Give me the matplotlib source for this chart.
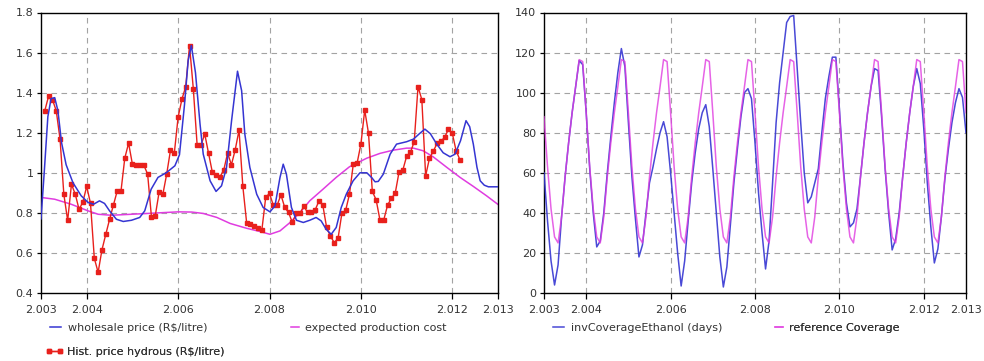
import numpy as np
import matplotlib
matplotlib.use("Agg")
import matplotlib.pyplot as plt
from matplotlib.ticker import FixedLocator, FixedFormatter

# ---------------- left panel: ethanol prices (R$/litre) ----------------
# historical hydrous price, monthly from Feb 2003
hist_price = [
    1.31, 1.383, 1.365, 1.31, 1.168, 0.892, 0.762, 0.943, 0.893, 0.817, 0.855, 0.932,
    0.847, 0.573, 0.503, 0.615, 0.692, 0.767, 0.838, 0.908, 0.908, 1.073, 1.148, 1.043,
    1.038, 1.038, 1.038, 0.993, 0.78, 0.785, 0.902, 0.893, 0.993, 1.113, 1.097, 1.277,
    1.367, 1.43, 1.635, 1.418, 1.138, 1.138, 1.193, 1.097, 1.002, 0.99, 0.98, 1.015,
    1.098, 1.04, 1.115, 1.213, 0.932, 0.75, 0.743, 0.735, 0.722, 0.715, 0.877, 0.897,
    0.838, 0.838, 0.89, 0.827, 0.802, 0.752, 0.797, 0.797, 0.833, 0.802, 0.802, 0.815,
    0.86, 0.838, 0.727, 0.683, 0.652, 0.673, 0.797, 0.813, 0.893, 1.043, 1.048, 1.143,
    1.313, 1.197, 0.907, 0.865, 0.765, 0.765, 0.838, 0.873, 0.897, 1.002, 1.013, 1.082,
    1.102, 1.155, 1.43, 1.365, 0.985, 1.072, 1.107, 1.147, 1.157, 1.177, 1.218, 1.197,
    1.11, 1.065,
]
hist_start = 2003 + 1 / 12

wholesale_t = [
    2003.0, 2003.07, 2003.15, 2003.22, 2003.30, 2003.37, 2003.45, 2003.55, 2003.70, 2003.88,
    2004.03, 2004.15, 2004.28, 2004.39, 2004.50, 2004.65, 2004.80, 2004.98, 2005.16, 2005.27,
    2005.41, 2005.56, 2005.74, 2005.93, 2006.03, 2006.14, 2006.22, 2006.29, 2006.38, 2006.48,
    2006.55, 2006.70, 2006.83, 2006.95, 2007.06, 2007.17, 2007.30, 2007.39, 2007.46, 2007.57,
    2007.72, 2007.86, 2008.01, 2008.12, 2008.23, 2008.30, 2008.37, 2008.48, 2008.59, 2008.74,
    2008.88, 2009.02, 2009.13, 2009.24, 2009.35, 2009.46, 2009.57, 2009.68, 2009.83, 2009.98,
    2010.13, 2010.24, 2010.31, 2010.38, 2010.49, 2010.64, 2010.78, 2011.00, 2011.15, 2011.28,
    2011.40, 2011.52, 2011.66, 2011.80, 2011.95, 2012.06, 2012.18, 2012.30, 2012.38, 2012.46,
    2012.54, 2012.61, 2012.70, 2012.79, 2013.0,
]
wholesale_price = [
    0.77, 1.0, 1.28, 1.37, 1.375, 1.31, 1.15, 1.04, 0.95, 0.885,
    0.852, 0.843, 0.86, 0.847, 0.81, 0.768, 0.757, 0.763, 0.777, 0.81,
    0.918, 0.977, 1.0, 1.035, 1.09, 1.34, 1.56, 1.635, 1.50, 1.243,
    1.093, 0.96, 0.907, 0.935, 1.027, 1.26, 1.507, 1.41, 1.193, 1.027,
    0.893, 0.827, 0.805, 0.835, 0.977, 1.043, 0.993, 0.827, 0.763, 0.752,
    0.763, 0.777, 0.76, 0.718, 0.693, 0.727, 0.827, 0.893, 0.96, 1.0,
    1.0, 0.975, 0.955, 0.957, 0.993, 1.093, 1.143, 1.155, 1.168, 1.195,
    1.218, 1.195, 1.143, 1.10, 1.08, 1.093, 1.16, 1.26, 1.23, 1.143,
    1.027, 0.96, 0.938, 0.93, 0.93,
]

cost_t = [
    2003.0, 2003.3, 2003.66, 2004.03, 2004.25, 2004.54, 2004.98, 2005.41, 2006.0, 2006.3,
    2006.55, 2006.85, 2007.14, 2007.50, 2007.79, 2008.01, 2008.23, 2008.45, 2008.67, 2008.88,
    2009.17, 2009.46, 2009.75, 2010.13, 2010.42, 2010.71, 2011.0, 2011.15, 2011.36, 2011.58,
    2011.88, 2012.17, 2012.46, 2012.75, 2013.0,
]
cost_value = [
    0.877, 0.868, 0.843, 0.81, 0.793, 0.788, 0.793, 0.798, 0.805, 0.804,
    0.797, 0.777, 0.747, 0.723, 0.707, 0.693, 0.71, 0.752, 0.802, 0.86,
    0.918, 0.977, 1.03, 1.073, 1.097, 1.113, 1.123, 1.123, 1.11, 1.08,
    1.027, 0.977, 0.932, 0.885, 0.842,
]

price_yticks = [0.4, 0.6, 0.8, 1.0, 1.2, 1.4, 1.6, 1.8]
price_ylabels = ["0.4", "0.6", "0.8", "1", "1.2", "1.4", "1.6", "1.8"]

# ---------------- right panel: ethanol stock coverage (days), monthly from Jan 2003 ----------------
inv_coverage = [
    60, 36, 16, 4, 14, 38, 58, 75, 90, 103, 116, 114,       # 2003
    90, 62, 40, 23, 26, 40, 60, 78, 95, 110, 122, 113,      # 2004
    85, 58, 37, 18, 24, 40, 55, 63, 72, 80, 85.5, 78,       # 2005
    60, 40, 20, 3.5, 16, 36, 55, 70, 82, 90, 94, 83,        # 2006
    62, 40, 18, 3, 13, 34, 55, 72, 88, 100, 102, 97,        # 2007
    75, 50, 30, 12, 26, 55, 85, 105, 120, 135, 138, 138.5,  # 2008
    112, 85, 60, 45, 48, 55, 62, 80, 97, 108, 117.7, 117.7, # 2009
    92, 65, 45, 33, 35, 42, 58, 75, 90, 103, 112, 111,      # 2010
    88, 62, 40, 21.5, 27, 40, 58, 75, 90, 103, 112, 104.5,  # 2011
    82, 55, 33, 15, 22, 38, 57, 72, 85, 95, 102, 97.6,      # 2012
    80,                                                     # Jan 2013
]
reference_coverage = [
    88, 63, 42, 28, 25, 38, 58, 75, 90, 103, 116.5, 115.5,  # 2003
    90, 63, 42, 28, 25, 38, 58, 75, 90, 103, 116.5, 115.5,  # 2004
    90, 63, 42, 28, 25, 38, 58, 75, 90, 103, 116.5, 115.5,  # 2005
    90, 63, 42, 28, 25, 38, 58, 75, 90, 103, 116.5, 115.5,  # 2006
    90, 63, 42, 28, 25, 38, 58, 75, 90, 103, 116.5, 115.5,  # 2007
    90, 63, 42, 28, 25, 38, 58, 75, 90, 103, 116.5, 115.5,  # 2008
    90, 63, 42, 28, 25, 38, 58, 75, 90, 103, 116.5, 115.5,  # 2009
    90, 63, 42, 28, 25, 38, 58, 75, 90, 103, 116.5, 115.5,  # 2010
    90, 63, 42, 28, 25, 38, 58, 75, 90, 103, 116.5, 115.5,  # 2011
    90, 63, 42, 28, 25, 38, 58, 75, 90, 103, 116.5, 115.5,  # 2012
    90,                                                     # Jan 2013
]
coverage_start = 2003.0
coverage_yticks = [0, 20, 40, 60, 80, 100, 120, 140]

year_ticks = [2003, 2004, 2006, 2008, 2010, 2012, 2013]
year_labels = ["2.003", "2.004", "2.006", "2.008", "2.010", "2.012", "2.013"]
grid_years = [2004, 2006, 2008, 2010, 2012]

# ---------------- styling ----------------
BLUE = "#3535d2"
MAGENTA = "#e03ce0"
RED = "#e8201c"
GRID = "#a3a3a3"
TEXT = "#333333"

plt.rcParams["font.family"] = ["DejaVu Sans"]
plt.rcParams["font.size"] = 8

W, H = 984, 361
fig = plt.figure(figsize=(W / 100, H / 100), dpi=100)


def px_rect(x0, y0, x1, y1):
    return [x0 / W, 1 - y1 / H, (x1 - x0) / W, (y1 - y0) / H]


def style_axes(ax, yticks, ylabels, ylim):
    ax.set_xlim(2003, 2013)
    ax.set_ylim(*ylim)
    ax.xaxis.set_major_locator(FixedLocator(year_ticks))
    ax.xaxis.set_major_formatter(FixedFormatter(year_labels))
    ax.yaxis.set_major_locator(FixedLocator(yticks))
    ax.yaxis.set_major_formatter(FixedFormatter(ylabels))
    ax.tick_params(axis="x", length=4, width=0.9, pad=4.5, colors="black", labelcolor=TEXT)
    ax.tick_params(axis="y", length=3, width=0.9, pad=2.5, colors="black", labelcolor=TEXT)
    for s in ax.spines.values():
        s.set_linewidth(1.0)
        s.set_color("black")
    for g in grid_years:
        ax.axvline(g, color=GRID, lw=0.8, dashes=(5, 4), zorder=0)
    for yv in yticks[1:-1]:
        ax.axhline(yv, color=GRID, lw=0.8, dashes=(5, 4), zorder=0)


def legend_entry(ax, handle, label, x_px, y_px, hlen=1.6):
    leg = ax.legend(
        handles=[handle], labels=[label], loc="center left",
        bbox_to_anchor=(x_px / W, 1 - y_px / H), bbox_transform=fig.transFigure,
        frameon=False, handlelength=hlen, handletextpad=0.25,
        borderpad=0, borderaxespad=0, numpoints=2, fontsize=8,
    )
    for t in leg.get_texts():
        t.set_color(TEXT)
    ax.add_artist(leg)


# ---------- left panel ----------
ax1 = fig.add_axes(px_rect(41, 12.5, 498, 293))
style_axes(ax1, price_yticks, price_ylabels, (0.4, 1.8))

hist_t = hist_start + np.arange(len(hist_price)) / 12
l_cost, = ax1.plot(cost_t, cost_value, color=MAGENTA, lw=1.1, zorder=2)
l_hist, = ax1.plot(hist_t, hist_price, color=RED, lw=1.0, marker="s", ms=3.0,
                   mec=RED, mfc=RED, zorder=3)
l_whole, = ax1.plot(wholesale_t, wholesale_price, color=BLUE, lw=1.1, zorder=4)

legend_entry(ax1, l_whole, "wholesale price (R$/litre)", 47, 328)
legend_entry(ax1, l_cost, "expected production cost", 288, 328, hlen=1.3)
legend_entry(ax1, l_hist, "Hist. price hydrous (R$/litre)", 46, 352)

# ---------- right panel ----------
ax2 = fig.add_axes(px_rect(544, 12.5, 966, 293))
style_axes(ax2, coverage_yticks, [str(v) for v in coverage_yticks], (0, 140))

cov_t = coverage_start + np.arange(len(inv_coverage)) / 12
l_inv, = ax2.plot(cov_t, inv_coverage, color=BLUE, lw=1.1, alpha=0.9, zorder=3)
l_ref, = ax2.plot(cov_t, reference_coverage, color=MAGENTA, lw=1.1, alpha=0.8, zorder=4)

legend_entry(ax2, l_inv, "invCoverageEthanol (days)", 550, 328)
legend_entry(ax2, l_ref, "reference Coverage", 772, 328, hlen=1.3)

fig.savefig("out.png", dpi=100)
